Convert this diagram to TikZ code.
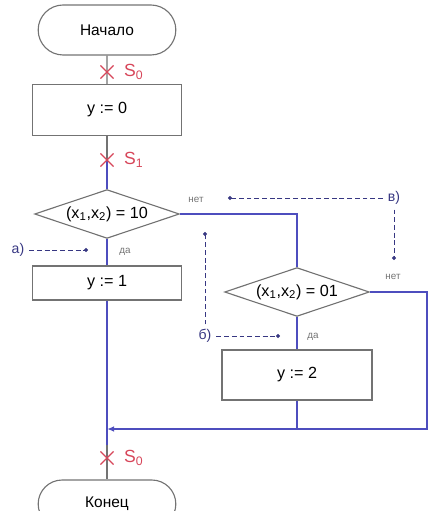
\documentclass[tikz,border=0pt]{standalone}
\usepackage{fontspec}
\setmainfont{Liberation Sans}
\usepackage{tikz}
\usetikzlibrary{arrows.meta,positioning,shapes.geometric,shapes.misc}
\definecolor{flowblue}{RGB}{78,78,190}
\definecolor{linegray}{RGB}{115,115,115}
\definecolor{markred}{RGB}{215,70,90}
\definecolor{hintblue}{RGB}{55,55,130}

\begin{document}
\begin{tikzpicture}[x=0.025cm,y=-0.025cm,
	term/.style={draw=linegray,line width=0.8pt,rounded rectangle,minimum width=3.675cm,minimum height=1.25cm,font=\fontsize{11}{13}\selectfont},
	proc/.style={draw=linegray,line width=0.8pt,rectangle,minimum width=3.72cm,font=\fontsize{11.5}{13}\selectfont},
	cond/.style={draw=linegray,line width=0.8pt,diamond,aspect=3,inner sep=0pt,minimum width=3.62cm,minimum height=1.22cm,font=\fontsize{11.5}{13}\selectfont},
	flow/.style={draw=flowblue,line width=1pt},
	plain/.style={draw=linegray,line width=0.8pt},
	cut/.style={draw=markred,line width=0.8pt,cross out,inner sep=0pt,minimum size=0.3cm},
	cutlabel/.style={right=4pt,text=markred,font=\fontsize{12.5}{14}\selectfont},
	answer/.style={text=linegray,font=\fontsize{7}{8}\selectfont},
	note/.style={text=hintblue,font=\fontsize{10}{12}\selectfont},
	hint/.style={draw=hintblue,line width=0.7pt,dash pattern=on 3.5pt off 2pt,-{Circle[length=2.8pt]}}
	]
	\useasboundingbox (0,0) rectangle (429,511);
	\clip (0,0) rectangle (429,511);
	
	% main column
	\node[term] (start) at (107,30) {Начало};
	\node[proc,minimum height=1.275cm] (set0) at (107,110) {y := 0};
	\node[cond] (cond1) at (107,214) {(x\textsubscript{1},x\textsubscript{2}) = 10};
	\node[proc,minimum height=0.85cm] (set1) at (107,283) {y := 1};
	\node[term,minimum height=1.2cm] (stop) at (107,504) {Конец};
	
	% right column
	\node[cond] (cond2) at (297,292) {(x\textsubscript{1},x\textsubscript{2}) = 01};
	\node[proc,minimum width=3.75cm,minimum height=1.25cm] (set2) at (297,375) {y := 2};
	
	\coordinate (turn1) at (297,214);
	\coordinate (turn2) at (427,292);
	\coordinate (turn3) at (427,429);
	\coordinate (join) at (107,429);
	\coordinate (join2) at (297,429);
	
	\draw[plain] (start) -- (set0);
	\draw[plain] (set0.south) -- (107,160);
	\draw[flow] (107,160) -- (cond1.north);
	\draw[flow] (cond1) -- (set1);
	\draw[flow] (set1.south) -- (107,445);
	\draw[plain] (107,445) -- (stop.north);
	\draw[flow] (cond1.east) -- (turn1) -- (cond2.north);
	\draw[flow] (cond2) -- (set2);
	\draw[flow] (set2.south) -- (join2);
	\draw[flow,-{Latex[length=5pt,width=4pt]}] (cond2.east) -- (turn2) -- (turn3) -- (join);
	
	% cut points
	\node[cut] (cut0) at (107,72) {};
	\node[cutlabel] at (cut0.east) {S\textsubscript{0}};
	\node[cut] (cut1) at (107,160) {};
	\node[cutlabel] at (cut1.east) {S\textsubscript{1}};
	\node[cut] (cut2) at (107,458) {};
	\node[cutlabel] at (cut2.east) {S\textsubscript{0}};
	
	% branch answers
	\node[answer] (no1) at (196,200) {нет};
	\node[answer] (yes1) at (125,252) {да};
	\node[answer] (no2) at (393,277) {нет};
	\node[answer] (yes2) at (313,337) {да};
	
	% remarks
	\node[note] (markA) at (18,250) {а)};
	\coordinate (dotA) at (88,250);
	\draw[hint] (markA) -- (dotA);
	
	\node[note] (markB) at (205,336) {б)};
	\coordinate (dotB1) at (280,336);
	\coordinate (dotB2) at (205,232);
	\draw[hint] (markB) -- (dotB1);
	\draw[hint] (markB) -- (dotB2);
	
	\node[note] (markC) at (394,198) {в)};
	\coordinate (dotC1) at (228,198);
	\coordinate (dotC2) at (394,260);
	\draw[hint] (markC) -- (dotC1);
	\draw[hint] (markC) -- (dotC2);
	
\end{tikzpicture}
\end{document}
